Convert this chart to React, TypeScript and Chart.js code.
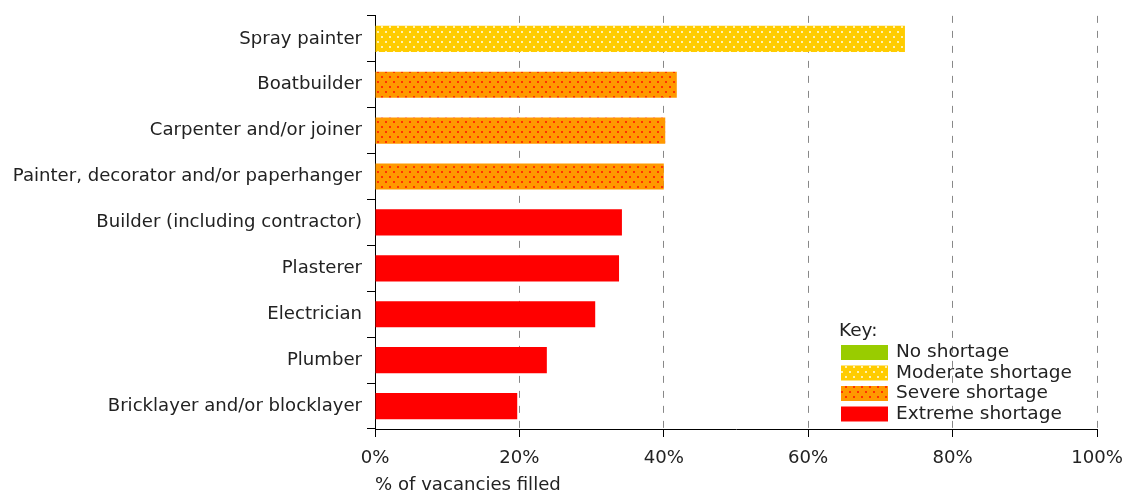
import React, { useEffect, useRef } from "react";
import { Chart, registerables } from "chart.js";

Chart.register(...registerables);

const categories = [
  "Spray painter",
  "Boatbuilder",
  "Carpenter and/or joiner",
  "Painter, decorator and/or paperhanger",
  "Builder (including contractor)",
  "Plasterer",
  "Electrician",
  "Plumber",
  "Bricklayer and/or blocklayer",
];
const filledPct = [73.4, 41.8, 40.2, 40.0, 34.2, 33.8, 30.5, 23.8, 19.7];
const shortage = ["moderate", "severe", "severe", "severe", "extreme", "extreme", "extreme", "extreme", "extreme"];
const xTicks = [0, 20, 40, 60, 80, 100];
const keyLabels = ["No shortage", "Moderate shortage", "Severe shortage", "Extreme shortage"];
const keyLevels = ["none", "moderate", "severe", "extreme"];

const FONT = "'DejaVu Sans', Verdana, sans-serif";
const FS = 18.1;

function dotPattern(bg: string, dot: string): CanvasPattern | string {
  const c = document.createElement("canvas");
  c.width = 8;
  c.height = 10;
  const g = c.getContext("2d");
  if (!g) return bg;
  g.fillStyle = bg;
  g.fillRect(0, 0, 8, 10);
  g.fillStyle = dot;
  g.fillRect(1, 1, 2, 2);
  g.fillRect(5, 6, 2, 2);
  const p = g.createPattern(c, "repeat");
  return p || bg;
}

export default function App() {
  const ref = useRef<HTMLCanvasElement>(null);
  useEffect(() => {
    if (!ref.current) return;
    const fills: Record<string, CanvasPattern | string> = {
      none: "#99CC00",
      moderate: dotPattern("#FFCC00", "#FFF2B0"),
      severe: dotPattern("#FF9900", "#FF3300"),
      extreme: "#FF0000",
    };
    const keyPlugin = {
      id: "keyPlugin",
      afterDraw(chart: any) {
        const ctx = chart.ctx as CanvasRenderingContext2D;
        ctx.save();
        ctx.font = `18.5px ${FONT}`;
        ctx.fillStyle = "#222";
        ctx.textBaseline = "middle";
        ctx.textAlign = "left";
        ctx.fillText("Key:", 839, 331);
        keyLabels.forEach((lab, i) => {
          const y = 345 + i * 20.5;
          ctx.fillStyle = fills[keyLevels[i]] as any;
          ctx.fillRect(841, y, 47, 15);
          ctx.fillStyle = "#222";
          ctx.fillText(lab, 896, y + 7.5);
        });
        ctx.restore();
      },
    };
    const chart = new Chart(ref.current, {
      type: "bar",
      data: {
        labels: categories,
        datasets: [
          {
            data: filledPct,
            backgroundColor: shortage.map((s) => fills[s]) as any,
            borderWidth: 0,
            categoryPercentage: 1,
            barPercentage: 0.57,
          },
        ],
      },
      options: {
        indexAxis: "y",
        animation: false,
        responsive: false,
        layout: { padding: { top: 15, left: 10, right: 29, bottom: 0 } },
        plugins: { legend: { display: false }, tooltip: { enabled: false } },
        scales: {
          x: {
            min: 0,
            max: 100,
            afterBuildTicks: (s: any) => {
              s.ticks = xTicks.map((v) => ({ value: v }));
            },
            afterFit: (s: any) => {
              s.height = 63;
              s.paddingLeft = 0;
              s.paddingRight = 0;
            },
            ticks: {
              callback: (v: any) => `${v}%`,
              color: "#222",
              font: { family: FONT, size: FS },
              padding: 10,
            },
            grid: {
              color: (c: any) => (c.tick && c.tick.value === 0 ? "rgba(0,0,0,0)" : "#888"),
              tickBorderDash: [],
              tickColor: "#000",
              tickLength: 8,
              lineWidth: 1,
            } as any,
            border: { display: true, color: "#000", width: 1, dash: [7, 8] } as any,
            title: {
              display: true,
              text: "% of vacancies filled",
              align: "start",
              color: "#222",
              font: { family: FONT, size: FS },
              padding: { top: 0, bottom: -4 },
            },
          },
          y: {
            afterFit: (s: any) => {
              s.width = 365;
            },
            ticks: {
              color: "#222",
              font: { family: FONT, size: FS },
              padding: 5,
            },
            grid: {
              drawOnChartArea: false,
              drawTicks: true,
              tickLength: 8,
              tickColor: "#000",
              offset: true,
            },
            border: { display: true, color: "#000", width: 1 },
          },
        },
      },
      plugins: [keyPlugin],
    });
    return () => chart.destroy();
  }, []);
  return (
    <div style={{ position: "fixed", left: 0, top: 0, width: 1126, height: 492, background: "#fff" }}>
      <canvas ref={ref} width={1126} height={492} style={{ width: 1126, height: 492 }} />
    </div>
  );
}
